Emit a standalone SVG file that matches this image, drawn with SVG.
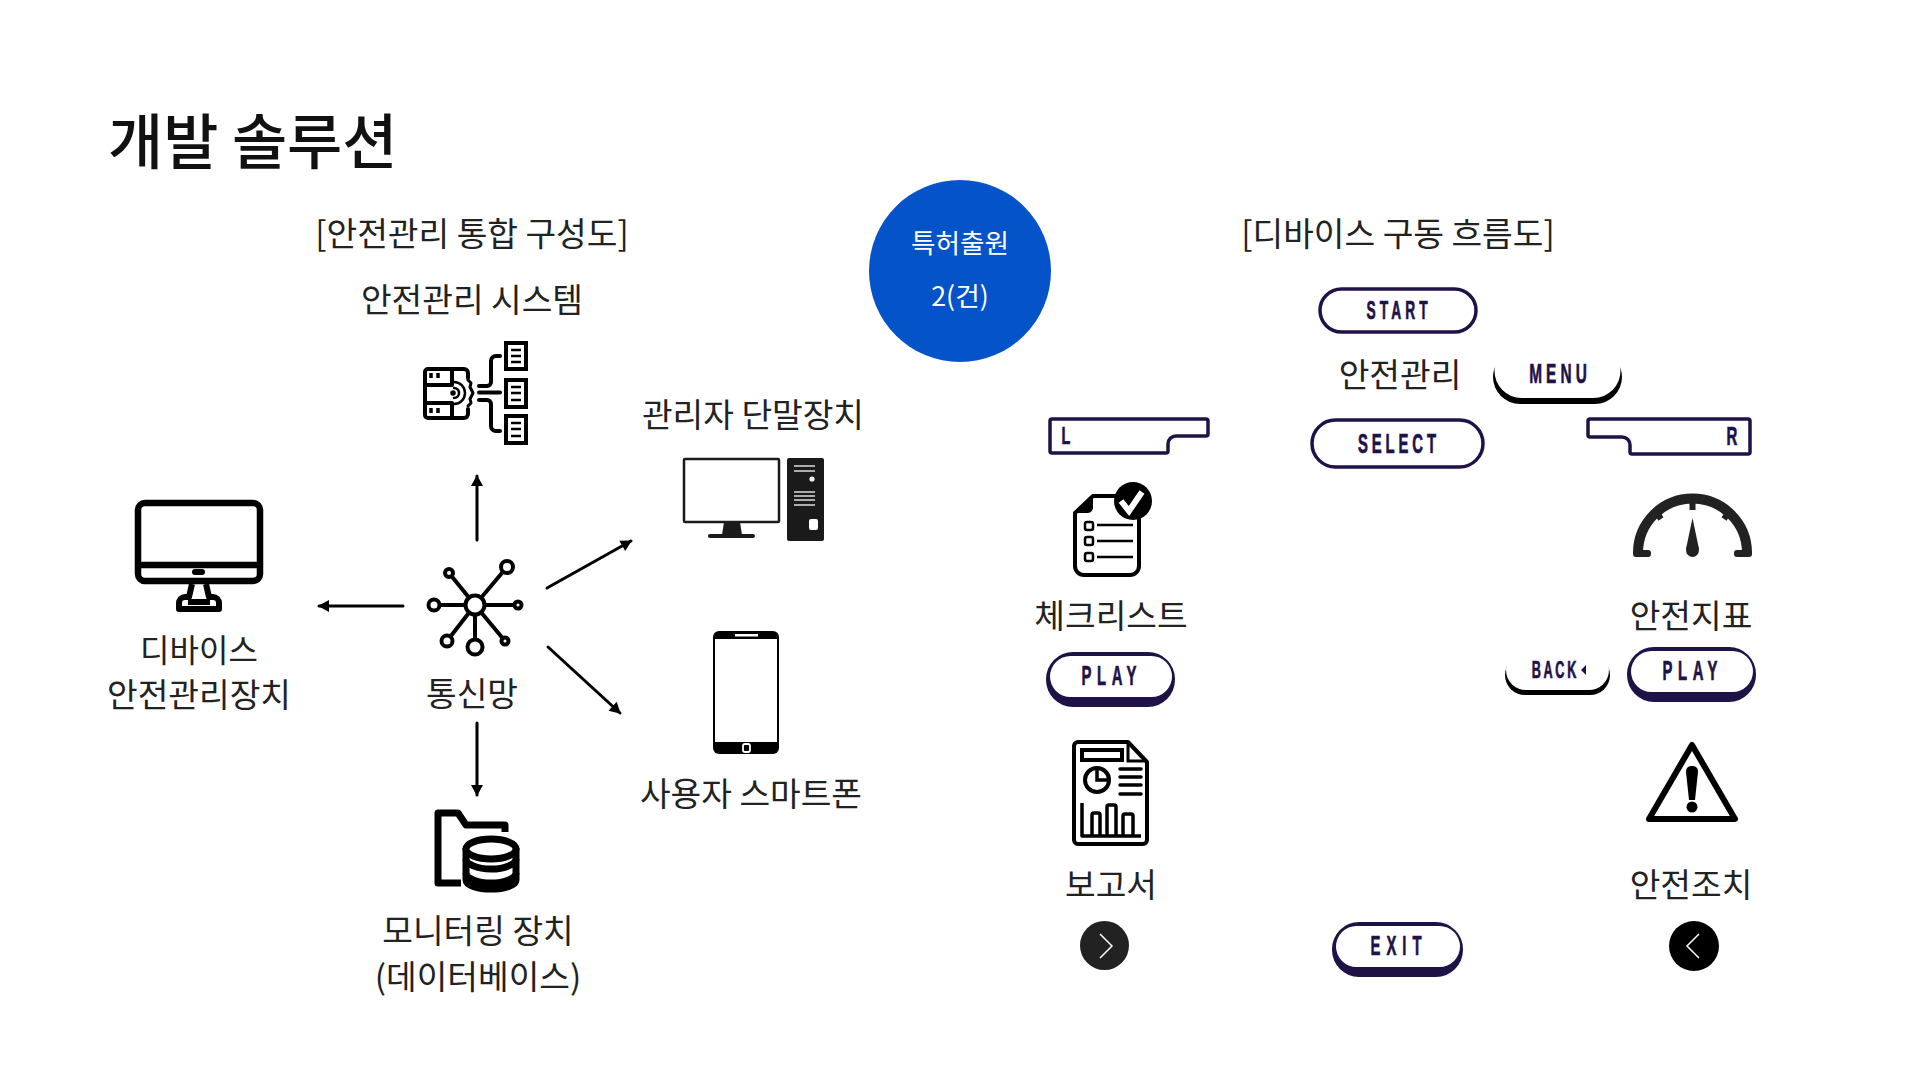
<svg xmlns="http://www.w3.org/2000/svg" width="1920" height="1080" viewBox="0 0 1920 1080">
<style>
text{font-family:"Noto Sans CJK KR","Noto Sans",sans-serif;fill:#222;font-size:33.33px;text-anchor:middle}
.t{font-size:60px;font-weight:500;fill:#111;text-anchor:start}
.w{fill:#fff;font-size:26.67px}
.b{font-family:"Liberation Sans",sans-serif;font-weight:700;fill:#1f1247;stroke:#1f1247;stroke-width:.7;font-size:26px}
.i{fill:none;stroke:#000;stroke-width:4;stroke-linecap:round;stroke-linejoin:round}
.p{fill:#fff;stroke:#1f1247;stroke-width:3.5}
.n{fill:#1f1247}
.c{fill:none;stroke:#000;stroke-width:3;stroke-linecap:round}
</style>
<defs>
<marker id="a" markerUnits="userSpaceOnUse" markerWidth="14" markerHeight="14" refX="12" refY="7" orient="auto"><path d="M2 1L13 7L2 13Z" fill="#000"/></marker>
</defs>
<rect width="1920" height="1080" fill="#fff"/>
<text class="t" x="108" y="164">개발 솔루션</text>
<g id="connectors">
<line class="c" x1="477" y1="540" x2="477" y2="476" marker-end="url(#a)"/>
<line class="c" x1="403" y1="606" x2="319" y2="606" marker-end="url(#a)"/>
<line class="c" x1="547" y1="588" x2="631" y2="541" marker-end="url(#a)"/>
<line class="c" x1="548" y1="647" x2="620" y2="713" marker-end="url(#a)"/>
<line class="c" x1="477" y1="723" x2="477" y2="795" marker-end="url(#a)"/>
</g>
<g id="badge"><circle cx="960" cy="271" r="91" fill="#0553c9"/><text class="w" x="960" y="253">특허출원</text><text class="w" x="960" y="306">2(건)</text></g>
<text x="472" y="246">[안전관리 통합 구성도]</text>
<text x="1398" y="246">[디바이스 구동 흐름도]</text>
<g id="system">
<text x="472" y="312">안전관리 시스템</text>
<g class="i">
<path d="M452 369H428a3 3 0 0 0-3 3v43a3 3 0 0 0 3 3h24"/><path d="M452 369h12a4 4 0 0 1 4 4v5M452 418h12a4 4 0 0 0 4-4v-5"/>
<path d="M425 385H452M425 403H452M452 369V385M452 403V418"/>
<path d="M431 373v5M438 373v5M431 408v5M438 408v5" stroke-width="3.500" stroke-linecap="butt"/>
<path d="M454 382a11 11 0 0 1 0 22M454 388a5 5 0 0 1 0 10" stroke-width="2.500"/>
<circle cx="453" cy="393" r="1.500" stroke-width="2.500"/>
<path d="M468 380l3 3-1 4 3 6-3 6 1 4-3 3" stroke-width="3"/>
<path d="M479 386h8a4 4 0 0 0 4-4V361a5 5 0 0 1 5-5h4M479 392.500h21M479 400h8a4 4 0 0 1 4 4V426a5 5 0 0 0 5 5h4"/>
<rect x="506" y="343" width="20" height="26" stroke-linejoin="miter"/><rect x="506" y="380" width="20" height="27" stroke-linejoin="miter"/><rect x="506" y="416" width="20" height="27" stroke-linejoin="miter"/>
<path d="M511 350h10M511 356h10M511 362h10M511 387h10M511 393h10M511 400h10M511 423h10M511 429h10M511 436h10" stroke-width="2.500" stroke-linecap="butt"/>
</g></g>
<g id="admin">
<text x="753" y="427">관리자 단말장치</text>
<rect x="684" y="459" width="95" height="63" fill="#fff" stroke="#1a1a1a" stroke-width="2.500" rx="1"/>
<path d="M724 522h16l2 13h-20Z" fill="#1a1a1a"/><rect x="708" y="534" width="47" height="4" rx="2" fill="#1a1a1a"/>
<rect x="787" y="458" width="37" height="83" rx="2" fill="#1a1a1a"/>
<path d="M794 466h21M794 471h21M794 492h21M794 496h21M794 500h21M794 505h21" stroke="#ddd" stroke-width="1.500"/>
<circle cx="812" cy="479" r="2.600" fill="#eee"/><rect x="809" y="519" width="9" height="11" rx="2" fill="#fff"/>
</g>
<g id="device">
<rect x="138" y="503" width="122" height="78" rx="7" fill="#fff" stroke="#000" stroke-width="6.500"/>
<path d="M138 565H260" stroke="#000" stroke-width="6.500"/><rect x="192" y="569" width="13" height="6" rx="3"/>
<path d="M192 584l-3 13h-4a6 6 0 0 0-6 6v6h40v-6a6 6 0 0 0-6-6h-4l-3-13M188 602h22" fill="none" stroke="#000" stroke-width="6" stroke-linejoin="round"/>
<text x="199" y="662" style="font-size:32px">디바이스</text><text x="199" y="707">안전관리장치</text>
</g>
<g id="network">
<g fill="#fff" stroke="#000" stroke-width="4">
<path d="M475 605L449 573M475 605L507 567M475 605H433M475 605H518M475 605L447 641M475 605V647M475 605L505 641"/>
<circle cx="475" cy="605" r="9.500"/><circle cx="449" cy="573" r="4"/><circle cx="507" cy="567" r="6"/><circle cx="434" cy="605" r="5.500"/><circle cx="518" cy="605" r="3.500"/><circle cx="447" cy="641" r="5.500"/><circle cx="475" cy="647" r="7.500"/><circle cx="505" cy="641" r="3.500"/>
</g>
<text x="472" y="706">통신망</text>
</g>
<g id="phone">
<rect x="713" y="631" width="66" height="123" rx="6"/><rect x="715" y="639" width="62" height="103" fill="#fff"/>
<rect x="735" y="634" width="23" height="2.500" fill="#fff"/><rect x="743" y="744" width="7" height="8" rx="2" fill="none" stroke="#fff" stroke-width="1.800"/>
<text x="751" y="806">사용자 스마트폰</text>
</g>
<g id="monitor">
<path d="M461 883H438V813H458L466 825H505V832" fill="none" stroke="#000" stroke-width="7" stroke-linejoin="round"/>
<path d="M466 848V880c0 5 11 9 25 9s25-4 25-9V848" fill="none" stroke="#000" stroke-width="7"/>
<ellipse cx="491" cy="849" rx="25" ry="10" fill="#fff" stroke="#000" stroke-width="7"/>
<path d="M466 859c0 5 11 10 25 10s25-5 25-10M466 873c0 5 11 10 25 10s25-5 25-10" fill="none" stroke="#000" stroke-width="7"/>
<text x="478" y="943">모니터링 장치</text><text x="478" y="989">(데이터베이스)</text>
</g>
<g id="start"><rect class="p" x="1320" y="289" width="156" height="43" rx="21.500"/><text class="b" transform="translate(1397 319) scale(.55 1)" textLength="111" style="font-size:25px">START</text></g>
<text x="1400" y="387">안전관리</text>
<g id="menu"><rect x="1493" y="350" width="129" height="54" rx="27"/><rect x="1494.500" y="344" width="126" height="54" rx="27" fill="#fff"/><text class="b" transform="translate(1558 383) scale(.55 1)" textLength="105" style="font-size:28px">MENU</text></g>
<g id="select"><rect class="p" x="1312" y="420" width="171" height="47" rx="23.500"/><text class="b" transform="translate(1397 453) scale(.55 1)" textLength="142" style="font-size:27px">SELECT</text></g>
<g id="l"><path class="p" d="M1052 419H1206a2 2 0 0 1 2 2V434a2 2 0 0 1-2 2H1176a8 8 0 0 0-8 8V451a2 2 0 0 1-2 2H1052a2 2 0 0 1-2-2V421a2 2 0 0 1 2-2Z"/><text class="b" transform="translate(1066 444) scale(.6 1)" style="font-size:24px">L</text></g>
<g id="r"><path class="p" d="M1590 419H1748a2 2 0 0 1 2 2V452a2 2 0 0 1-2 2H1632a2 2 0 0 1-2-2V445a8 8 0 0 0-8-8H1590a2 2 0 0 1-2-2V421a2 2 0 0 1 2-2Z"/><text class="b" transform="translate(1732 445) scale(.6 1)" style="font-size:25px">R</text></g>
<g id="checklist">
<path d="M1093 496H1125V510H1139V566a9 9 0 0 1-9 9H1084a9 9 0 0 1-9-9V513Z" fill="#fff" stroke="#000" stroke-width="4" stroke-linejoin="round"/>
<path d="M1073 513L1093 494V508a6 6 0 0 1-6 5Z"/>
<circle cx="1133" cy="501" r="19"/><path d="M1121 501l8 10 13-19" fill="none" stroke="#fff" stroke-width="6"/>
<g fill="none" stroke="#000" stroke-width="2.500"><rect x="1085" y="522" width="8" height="8" rx="2"/><rect x="1085" y="537" width="8" height="8" rx="2"/><rect x="1085" y="553" width="8" height="8" rx="2"/><path d="M1097 525h36M1097 541h36M1097 557h36"/></g>
<text x="1111" y="628">체크리스트</text>
</g>
<g id="gauge" fill="#222">
<path d="M1638 554V553A54.500 54.500 0 0 1 1747 553V554" fill="none" stroke="#222" stroke-width="10"/>
<rect x="1633" y="550" width="18" height="7" rx="3"/><rect x="1734" y="550" width="18" height="7" rx="3"/>
<path d="M1692.500 498V510M1655 510l6 9M1730 510l-6 9" fill="none" stroke="#222" stroke-width="6"/>
<path d="M1692.500 518L1699 549H1686Z"/><ellipse cx="1692.500" cy="550" rx="6.500" ry="7"/>
<text x="1691" y="628">안전지표</text>
</g>
<g id="play1"><rect class="n" x="1046" y="652" width="129" height="55" rx="27"/><rect x="1050" y="656" width="122" height="41" rx="20.500" fill="#fff"/><text class="b" transform="translate(1109 685) scale(.55 1)" textLength="100" style="font-size:27px">PLAY</text></g>
<g id="back"><rect x="1505" y="655" width="105" height="40" rx="20"/><rect x="1506" y="650" width="103" height="40" rx="20" fill="#fff"/><text class="b" transform="translate(1554 678) scale(.55 1)" textLength="81" style="font-size:23px">BACK</text><polygon class="n" points="1586,665 1586,675 1581,670"/></g>
<g id="play2"><rect class="n" x="1627" y="647" width="129" height="55" rx="27"/><rect x="1631" y="651" width="122" height="41" rx="20.500" fill="#fff"/><text class="b" transform="translate(1690 680) scale(.55 1)" textLength="100" style="font-size:27px">PLAY</text></g>
<g id="report" fill="none" stroke="#000" stroke-width="4">
<path d="M1078 742H1128L1147 762V840a4 4 0 0 1-4 4H1078a4 4 0 0 1-4-4V746a4 4 0 0 1 4-4Z" fill="#fff" stroke-linejoin="round"/>
<path d="M1128 742V761H1147" stroke-width="3"/>
<rect x="1082" y="750" width="40" height="10"/>
<circle cx="1097" cy="780" r="12"/><path d="M1097 769V780H1108" stroke-width="3.500"/><path d="M1120 769H1141M1120 777H1141M1120 785H1141M1120 794H1141" stroke-width="3.500" stroke-linecap="round"/>
<path d="M1082 803V836H1141M1092 836V815a2 2 0 0 1 2-2h4a2 2 0 0 1 2 2V836M1107 836V807a2 2 0 0 1 2-2h5a2 2 0 0 1 2 2V836M1123 836V816a2 2 0 0 1 2-2h6a2 2 0 0 1 2 2V836" stroke-width="3.500" stroke-linejoin="round"/>
</g>
<g id="warning">
<path d="M1692 745L1735 819H1649Z" fill="#fff" stroke="#000" stroke-width="6" stroke-linejoin="round"/>
<path d="M1692 766c4 0 6 2 6 6l-3 28h-6l-3-28c0-4 2-6 6-6Z"/><circle cx="1692" cy="807" r="5.500"/>
</g>
<text x="1111" y="897">보고서</text>
<text x="1691" y="897">안전조치</text>
<g id="next"><circle cx="1104.500" cy="945.500" r="24.500" fill="#222"/><path d="M1100 934L1112 946L1100 958" fill="none" stroke="#fff" stroke-width="1.500"/></g>
<g id="exit"><rect class="n" x="1332" y="922" width="131" height="55" rx="27"/><rect x="1336" y="926" width="124" height="41" rx="20.500" fill="#fff"/><text class="b" transform="translate(1396 955) scale(.55 1)" textLength="93" style="font-size:27px">EXIT</text></g>
<g id="prev"><circle cx="1694" cy="946" r="25"/><path d="M1699 934L1687 946L1699 958" fill="none" stroke="#fff" stroke-width="1.500"/></g>
</svg>
